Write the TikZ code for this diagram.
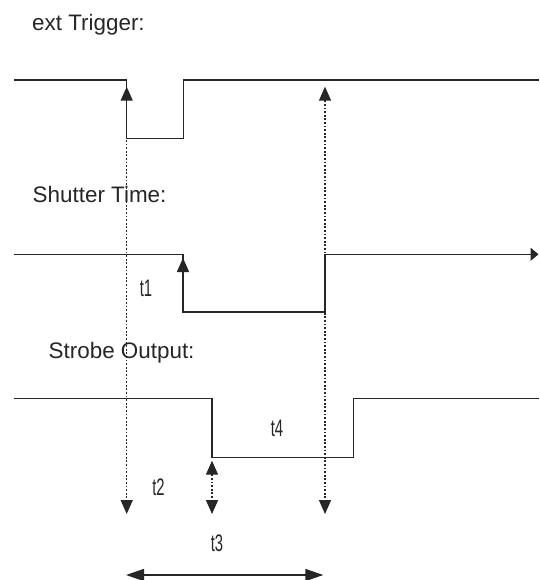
\documentclass[tikz,border=0pt]{standalone}
\usepackage{fontspec}
\setmainfont{Liberation Sans}
\usetikzlibrary{arrows.meta}
\tikzset{
  vt/.tip={Triangle[length=14bp,width=12bp]},
  ht/.tip={Triangle[length=18bp,width=12bp]},
  et/.tip={Triangle[length=8bp,width=13bp]}
}
\begin{document}
\begin{tikzpicture}[x=1bp,y=-1bp,
  wave/.style={line width=1.5bp, draw=black!85},
  guide/.style={line width=1.4bp, draw=black!85, dash pattern=on 1.8bp off 1.8bp},
  lab/.style={inner sep=0pt, text=black!85, font=\fontsize{22.5}{26}\selectfont, anchor=base west},
  tlab/.style={inner sep=0pt, text=black!85, font=\fontsize{24}{28}\selectfont, anchor=center}
]
\fill[white] (0,0) rectangle (540,580);
\useasboundingbox (0,0) rectangle (540,580);

% key points
\coordinate (T0) at (13.5,80);   \coordinate (T1) at (126.7,80);
\coordinate (T2) at (126.7,138.3); \coordinate (T3) at (183.3,138.3);
\coordinate (T4) at (183.3,80);  \coordinate (T5) at (539,80);

\coordinate (S0) at (13.5,254.3); \coordinate (S1) at (183,254.3);
\coordinate (S2) at (183,312);   \coordinate (S3) at (325,312);
\coordinate (S4) at (325,254.3); \coordinate (S5) at (538.5,254.3);

\coordinate (P0) at (13.5,398.5); \coordinate (P1) at (212,398.5);
\coordinate (P2) at (212,457.3); \coordinate (P3) at (353.3,457.3);
\coordinate (P4) at (353.3,398.5); \coordinate (P5) at (539,398.5);

\coordinate (GLt) at (126.7,86.7); \coordinate (GLb) at (126.7,514);
\coordinate (GRt) at (325,86.7);   \coordinate (GRb) at (325,514);
\coordinate (GMt) at (212,460.7);  \coordinate (GMb) at (212,514);
\coordinate (A1) at (183,258);
\coordinate (H1) at (126,575);     \coordinate (H2) at (323.3,575);

% dotted guides
\draw[guide, vt-vt] (GLt) -- (GLb);
\draw[guide, vt-vt] (GRt) -- (GRb);
\draw[guide, vt-vt] (GMt) -- (GMb);

% waveforms
\draw[wave] (T0) -- (T1) -- (T2) -- (T3) -- (T4) -- (T5);
\draw[wave, -et] (S0) -- (S1) -- (S2) -- (S3) -- (S4) -- (S5);
\draw[wave] (P0) -- (P1) -- (P2) -- (P3) -- (P4) -- (P5);

% solid arrows
\draw[wave, -vt] (S2) -- (A1);
\draw[wave, ht-ht] (H1) -- (H2);

% labels
\node[lab] (ltrig) at (32,31) {ext Trigger:};
\node[lab] (lshut) at (32.5,202) {Shutter Time:};
\node[lab] (lstrb) at (48.5,358) {Strobe Output:};

\node[tlab] (t1) at (146,288) {\scalebox{0.62}[1]{t1}};
\node[tlab] (t4) at (277,428) {\scalebox{0.62}[1]{t4}};
\node[tlab] (t2) at (158.5,487) {\scalebox{0.62}[1]{t2}};
\node[tlab] (t3) at (217,543.5) {\scalebox{0.62}[1]{t3}};
\end{tikzpicture}
\end{document}
